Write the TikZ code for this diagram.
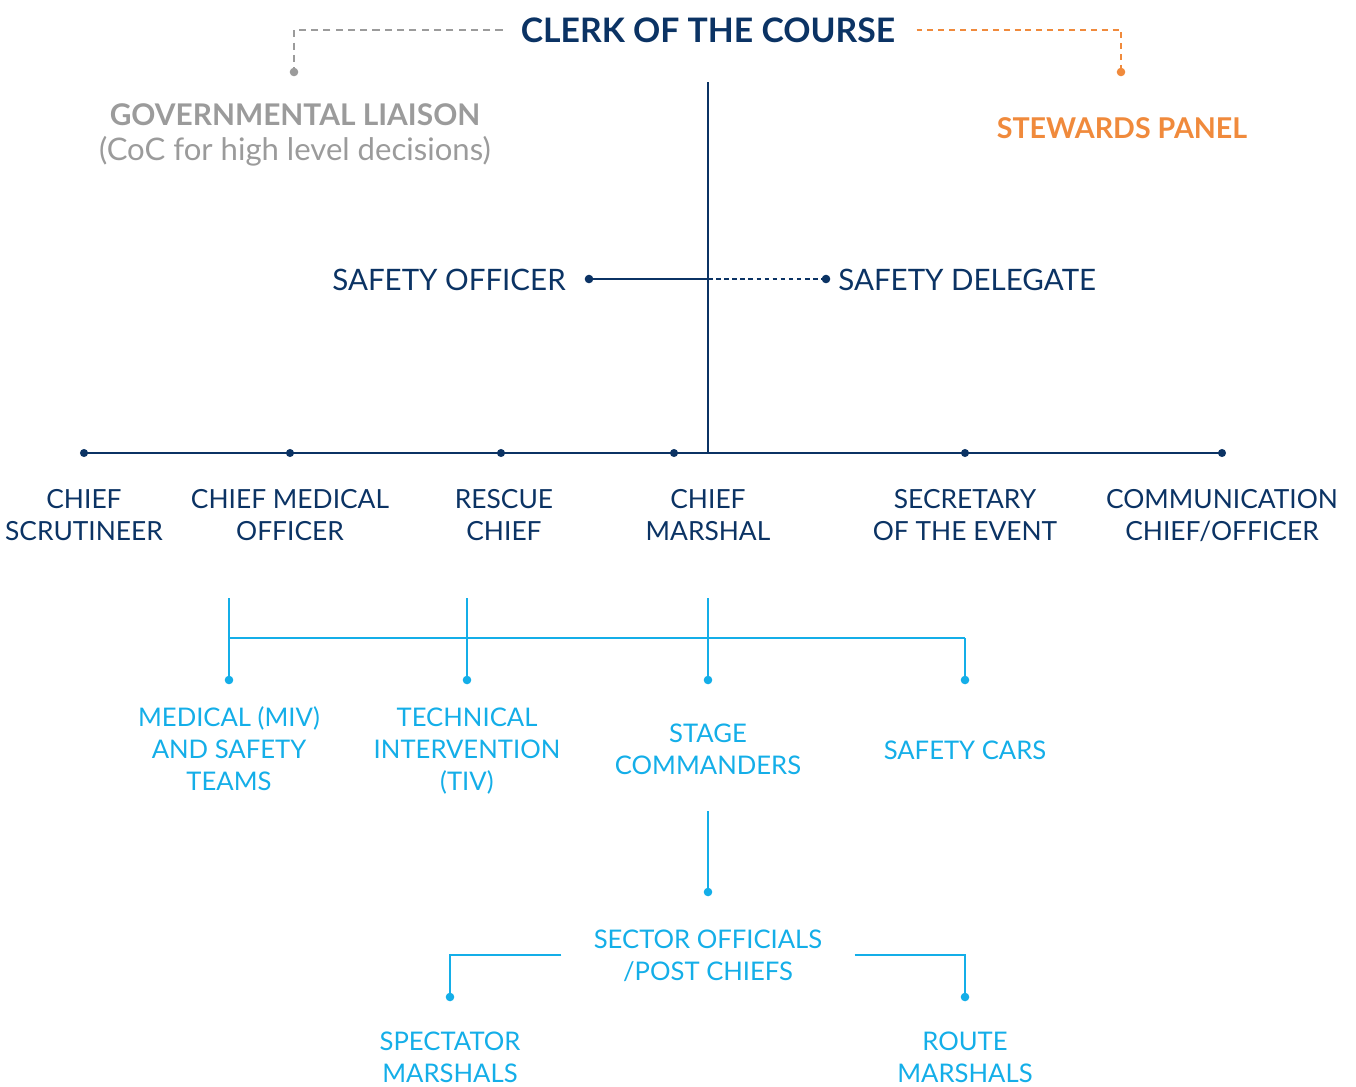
\documentclass[tikz,border=0pt]{standalone}
\usepackage{fontspec}
\setmainfont{Lato}
\usetikzlibrary{positioning,arrows.meta}

\definecolor{navy}{HTML}{0B3364}
\definecolor{skyblue}{HTML}{14AEE8}
\definecolor{stewardorange}{HTML}{F08A3C}
\definecolor{liaisongray}{HTML}{9B9B9B}

\tikzset{
  role/.style={align=center, inner sep=0pt, anchor=base, text=navy, font=\fontsize{15}{18.1}\selectfont},
  team/.style={role, text=skyblue, font=\fontsize{14.6}{18.1}\selectfont},
  navyline/.style={draw=navy, line width=1pt},
  blueline/.style={draw=skyblue, line width=1.1pt},
  dotend/.style={-{Circle[length=4.8pt, sep=-2.4pt]}},
}

\begin{document}
\begin{tikzpicture}[x=0.02cm, y=-0.02cm]
\useasboundingbox (0,0) rectangle (1356,1086);

% top row
\node[role, font=\bfseries\fontsize{19.2}{24}\selectfont] (clerk) at (708,42) {CLERK OF THE COURSE};
\node[role, text=liaisongray, font=\fontsize{17.7}{19.8}\selectfont] (liaison) at (295,160)
  {{\bfseries\fontsize{17}{19.8}\selectfont GOVERNMENTAL LIAISON}\\(CoC for high level decisions)};
\node[role, text=stewardorange, font=\bfseries\fontsize{16.3}{20}\selectfont] (stewards) at (1122,138) {STEWARDS PANEL};

\coordinate (gl) at (294,72);
\coordinate (sp) at (1121,72);
\draw[liaisongray, line width=0.9pt, dash pattern=on 4pt off 3pt, dotend] ([xshift=-0.36cm]clerk.west) -| (gl);
\draw[stewardorange, line width=0.9pt, dash pattern=on 3.4pt off 2.8pt, dotend] ([xshift=0.42cm]clerk.east) -| (sp);

% safety
\node[role, anchor=base east, font=\fontsize{16.8}{20}\selectfont] (officer) at (566,290) {SAFETY OFFICER};
\node[role, anchor=base west, font=\fontsize{16.8}{20}\selectfont] (delegate) at (838,290) {SAFETY DELEGATE};
\coordinate (spine) at (708,82);
\coordinate (bus) at (708,453);
\coordinate (mid) at (708,279);
\draw[navyline] (spine) -- (bus);
\draw[navyline, dotend] (mid) -- ([xshift=0.46cm]officer.east |- mid);
\draw[navyline, dash pattern=on 2.6pt off 2pt, dotend] (mid) -- ([xshift=-0.24cm]delegate.west |- mid);

% chiefs
\coordinate (cs) at (84,453);
\coordinate (cmo) at (290,453);
\coordinate (rc) at (501,453);
\coordinate (cm) at (674,453);
\coordinate (sec) at (965,453);
\coordinate (com) at (1222,453);
\draw[navyline] (cs) -- (com);
\foreach \p in {cs,cmo,rc,cm,sec,com}
  \fill[navy] (\p) circle (2.3pt);

\node[role] (scrutineer) at (84,540) {CHIEF\\SCRUTINEER};
\node[role] (medical) at (290,540) {CHIEF MEDICAL\\OFFICER};
\node[role] (rescue) at (504,540) {RESCUE\\CHIEF};
\node[role] (marshal) at (708,540) {CHIEF\\MARSHAL};
\node[role] (secretary) at (965,540) {SECRETARY\\OF THE EVENT};
\node[role] (comms) at (1222,540) {COMMUNICATION\\CHIEF/OFFICER};

% teams
\coordinate (t1) at (229,598);
\coordinate (t2) at (467,598);
\coordinate (t3) at (708,598);
\coordinate (barL) at (229,638);
\coordinate (barR) at (965,638);
\coordinate (d1) at (229,680);
\coordinate (d2) at (467,680);
\coordinate (d3) at (708,680);
\coordinate (d4) at (965,680);
\draw[blueline] (barL) -- (barR);
\draw[blueline, dotend] (t1) -- (d1);
\draw[blueline, dotend] (t2) -- (d2);
\draw[blueline, dotend] (t3) -- (d3);
\draw[blueline, dotend] (barR) -- (d4);

\node[team] (miv) at (229,790) {MEDICAL (MIV)\\AND SAFETY\\TEAMS};
\node[team] (tiv) at (467,790) {TECHNICAL\\INTERVENTION\\(TIV)};
\node[team] (stage) at (708,774) {STAGE\\COMMANDERS};
\node[team] (cars) at (965,759) {SAFETY CARS};

% sectors
\coordinate (s0) at (708,811);
\coordinate (s1) at (708,892);
\draw[blueline, dotend] (s0) -- (s1);
\node[team] (sector) at (708,980) {SECTOR OFFICIALS\\/POST CHIEFS};
\coordinate (spm) at (450,997);
\coordinate (rtm) at (965,997);
\draw[blueline, dotend] ([xshift=-0.64cm]sector.west) -| (spm);
\draw[blueline, dotend] ([xshift=0.64cm]sector.east) -| (rtm);

\node[team] (spectator) at (450,1082) {SPECTATOR\\MARSHALS};
\node[team] (route) at (965,1082) {ROUTE\\MARSHALS};
\end{tikzpicture}
\end{document}
